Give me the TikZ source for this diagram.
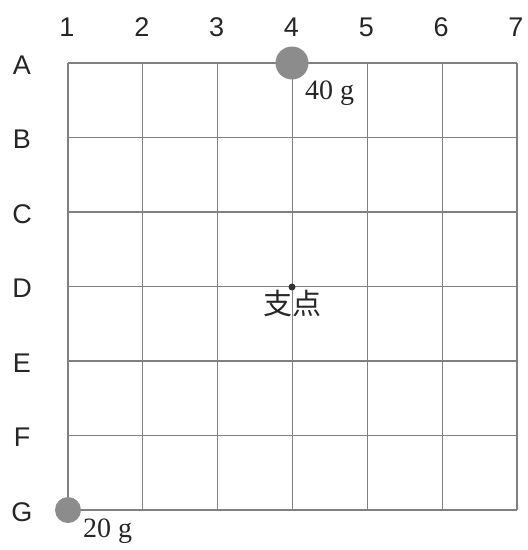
\documentclass[tikz,border=0pt]{standalone}
\usepackage{fontspec}
\setmainfont{Liberation Serif}
\setsansfont{Liberation Sans}
\newfontfamily\cjk{Noto Sans CJK JP}
\begin{document}
\begin{tikzpicture}[x=1pt,y=-1pt,
  gridline/.style={draw=black!50,line width=1.3pt},
  axlabel/.style={font=\sffamily\fontsize{27}{30}\selectfont,text=black!85,inner sep=0pt},
  wlabel/.style={font=\rmfamily\fontsize{28}{30}\selectfont,text=black!85,inner sep=0pt},
  weight/.style={circle,fill=black!45,inner sep=0pt},
]
\useasboundingbox (0,0) rectangle (528,550);
\def\dx{74.83}
\def\dy{74.5}
% grid
\foreach \i in {0,...,6} {
  \draw[gridline] (68+\i*\dx,63) -- (68+\i*\dx,510);
  \draw[gridline] (68,63+\i*\dy) -- (517,63+\i*\dy);
}
% column labels
\foreach \n [count=\i from 0] in {1,2,3,4,5,6,7}
  \node[axlabel] (c\n) at (68+\i*\dx-1,27) {\n};
% row labels
\foreach \n [count=\i from 0] in {A,B,C,D,E,F,G}
  \node[axlabel] (r\n) at (22,63+\i*\dy+2) {\n};
% weights
\node[weight,minimum size=33pt] (w40) at (292,63) {};
\node[weight,minimum size=26pt] (w20) at (68,510) {};
\node[circle,fill=black!80,inner sep=0pt,minimum size=7pt] (pivot) at (292,287) {};
% labels
\node[wlabel,anchor=west] (l40) at (305,93) {40 g};
\node[wlabel,anchor=west] (l20) at (83,531) {20 g};
\node[font=\cjk\fontsize{29}{30}\selectfont,text=black!85,inner sep=0pt] (lp) at (292,304) {支点};
\end{tikzpicture}
\end{document}
